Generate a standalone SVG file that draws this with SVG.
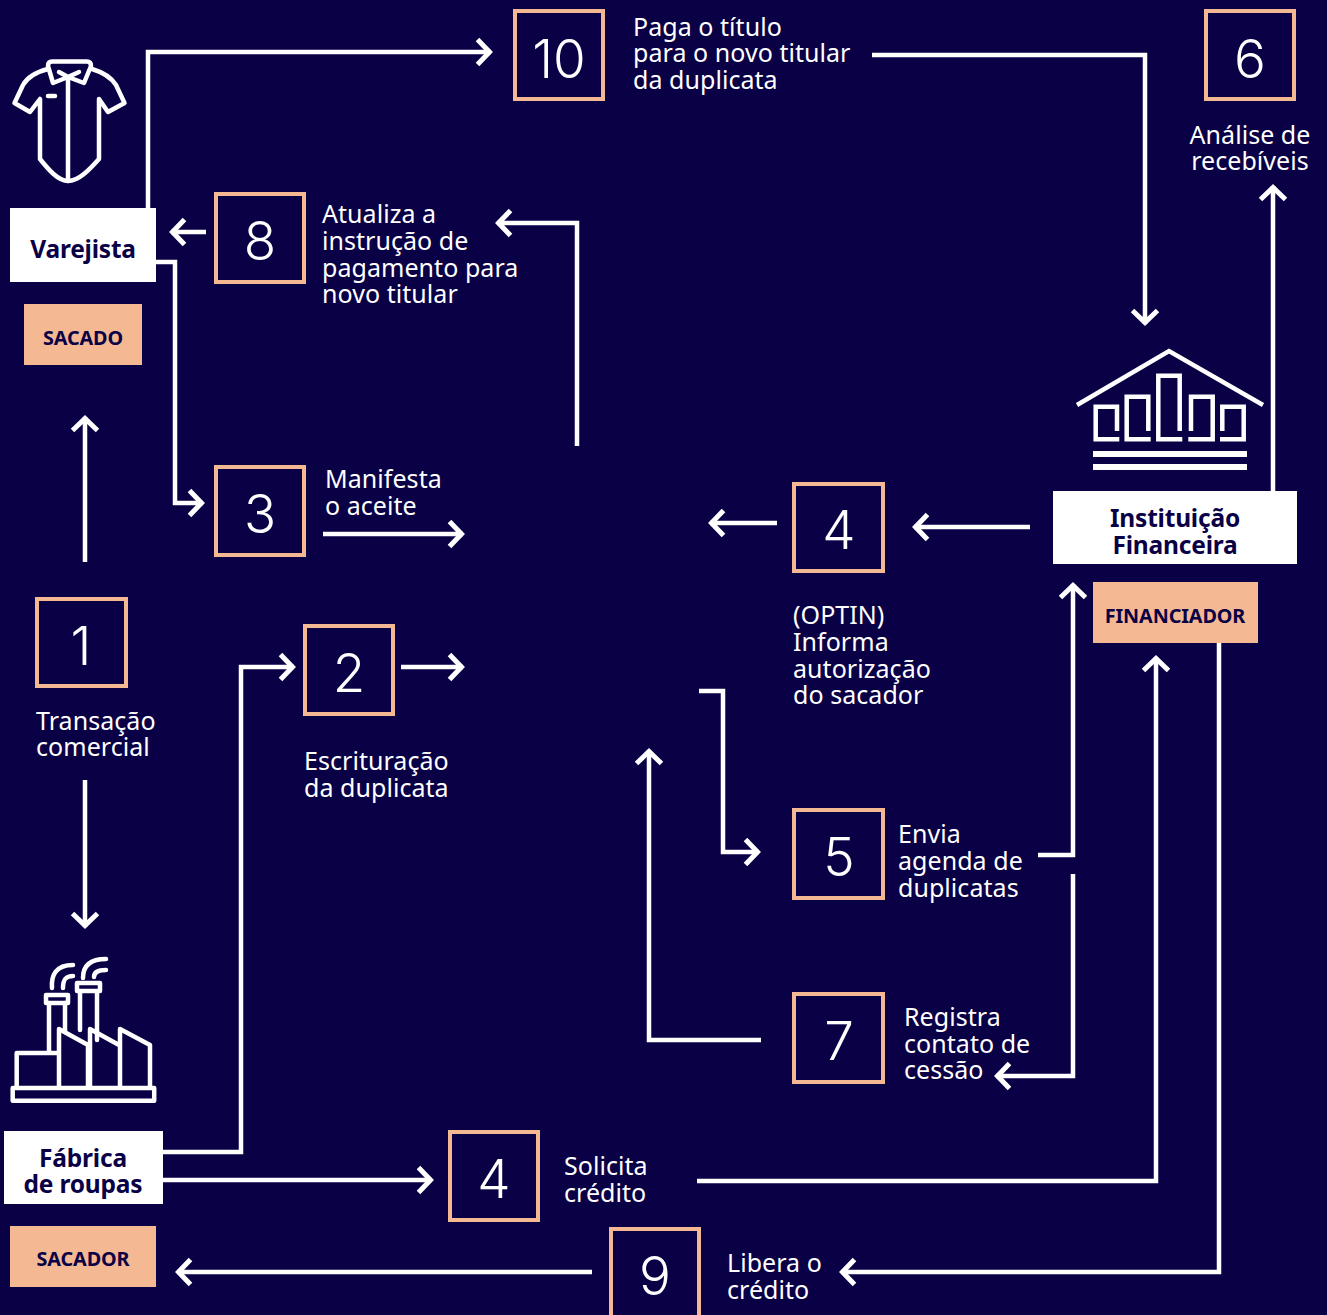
<svg xmlns="http://www.w3.org/2000/svg" width="1327" height="1315" viewBox="0 0 1327 1315">
<defs>
<marker id="a" markerUnits="userSpaceOnUse" markerWidth="30" markerHeight="40" refX="17.500" refY="15" orient="auto" overflow="visible"><path d="M4,2.500 L16,15 L4,27.500" fill="none" stroke="#fff" stroke-width="5"/></marker>
</defs>
<style>
.c{fill:none;stroke:#fff;stroke-width:4.500;marker-end:url(#a)}
.n{fill:#0a0046;stroke:#f4b992;stroke-width:4}
.d{font-family:"Inter",sans-serif;font-size:53px;font-weight:300;fill:#fff;text-anchor:middle}
.t{font-family:"Noto Sans",sans-serif;font-size:25px;fill:#fff;letter-spacing:.05px}
.w{fill:#fff}.p{fill:#f4b992}
.b{font-family:"Noto Sans",sans-serif;font-size:24.500px;font-weight:700;fill:#0a0046;text-anchor:middle;letter-spacing:-.2px}
.s{font-family:"Noto Sans",sans-serif;font-size:19.800px;font-weight:700;fill:#0a0046;text-anchor:middle;letter-spacing:-.1px}
.i{fill:none;stroke:#fff;stroke-width:4.500;stroke-linejoin:round;stroke-linecap:round}
.m{fill:none;stroke:#fff;stroke-width:4.500}
</style>
<rect width="1327" height="1315" fill="#0a0046"/>
<g id="connectors">
<path class="c" d="M148,208V52H491"/>
<path class="c" d="M206,232H171"/>
<path class="c" d="M156,262H175V503H203"/>
<path class="c" d="M577,446V223H497"/>
<path class="c" d="M323,534H463"/>
<path class="c" d="M85,562V417"/>
<path class="c" d="M85,780V927"/>
<path class="c" d="M163,1152H241V667H294"/>
<path class="c" d="M401,667H463"/>
<path class="c" d="M163,1180H432"/>
<path class="c" d="M697,1181H1156V657"/>
<path class="c" d="M592,1272H177"/>
<path class="c" d="M1219,643V1272H841"/>
<path class="c" d="M872,55H1145V324"/>
<path class="c" d="M1273,491V186"/>
<path class="c" d="M1030,527H914"/>
<path class="c" d="M777,523H710"/>
<path class="c" d="M699,691H723V852H759"/>
<path class="c" d="M1038,855H1073V584"/>
<path class="c" d="M1073,874V1076H996"/>
<path class="c" d="M761,1040H649V750"/>
</g>
<g id="shirt-icon" class="i">
<path d="M48,69C36,72 27,78 23,85L14.500,103L30,112L40,99V159C48,169 58,181 68,181C79,181 90,169 99,159V99L108,112L124.500,103L116,85C111,77 102,72 92,69"/>
<path d="M53,83L48,66Q48,61.500 52,61.500H87Q91,61.500 91,66L84,83L68,77Z"/>
<path d="M59,72L68,77L79,72M68,77V181"/>
<path d="M48,96H55"/>
</g>
<g id="factory-icon" class="i">
<rect x="12.700" y="1088" width="141.500" height="12.700"/>
<path d="M16.700,1087V1053H59M59,1087V1029L88,1045V1087M90,1087V1029L119,1045M120,1087V1029L150,1045V1087"/>
<path d="M49,1052V1003M65,1032V1003M80,1030V992M97,1040V992"/>
<rect x="46" y="995" width="22" height="8"/>
<rect x="77" y="983" width="23" height="8"/>
<path d="M52,988C51,975 56,965 73,965M63,988C63,979 66,976 73,976M83,978C83,966 90,959 106,959M94,977C94,972 98,970 106,970"/>
</g>
<g id="bank-icon">
<path class="m" d="M1077,405L1169,351L1263,405"/>
<path class="m" d="M1117,431V406.700H1095.700V439.300H1119.300M1148.300,431V396.700H1126.700V439.300H1150.700M1179.700,431V375.700H1158.300V439.300H1182.300M1191,431V396.700H1212.700V439.300H1188.300M1222.300,431V406.700H1243.700V439.300H1220"/>
<rect class="w" x="1093" y="451" width="154" height="6"/>
<rect class="w" x="1093" y="464" width="154" height="6"/>
</g>
<g id="varejista"><rect class="w" x="10" y="208" width="146" height="74"/><text class="b" x="83" y="258">Varejista</text></g>
<g id="sacado"><rect class="p" x="24" y="304" width="118" height="61"/><text class="s" x="83" y="345">SACADO</text></g>
<g id="instituicao"><rect class="w" x="1053" y="491" width="244" height="73"/><text class="b" x="1175" y="527">Instituição</text><text class="b" x="1175" y="554">Financeira</text></g>
<g id="financiador"><rect class="p" x="1093" y="582" width="165" height="61"/><text class="s" x="1175" y="623">FINANCIADOR</text></g>
<g id="fabrica"><rect class="w" x="4" y="1131" width="159" height="73"/><text class="b" x="83" y="1167">Fábrica</text><text class="b" x="83" y="1193">de roupas</text></g>
<g id="sacador"><rect class="p" x="10" y="1226" width="146" height="61"/><text class="s" x="83" y="1266">SACADOR</text></g>
<g id="step-10"><rect class="n" x="515" y="11" width="88" height="88"/><text class="d" x="559" y="78">10</text><text class="t" x="633" y="36">Paga o título</text><text class="t" x="633" y="62">para o novo titular</text><text class="t" x="633" y="89">da duplicata</text></g>
<g id="step-6"><rect class="n" x="1206" y="11" width="88" height="88"/><text class="d" x="1250" y="78">6</text><text class="t" x="1250" y="144" text-anchor="middle">Análise de</text><text class="t" x="1250" y="170" text-anchor="middle">recebíveis</text></g>
<g id="step-8"><rect class="n" x="216" y="194" width="88" height="88"/><text class="d" x="260" y="260">8</text><text class="t" x="322" y="223">Atualiza a</text><text class="t" x="322" y="250">instrução de</text><text class="t" x="322" y="277">pagamento para</text><text class="t" x="322" y="303">novo titular</text></g>
<g id="step-3"><rect class="n" x="216" y="467" width="88" height="88"/><text class="d" x="260" y="533">3</text><text class="t" x="325" y="488">Manifesta</text><text class="t" x="325" y="515">o aceite</text></g>
<g id="step-4a"><rect class="n" x="794" y="484" width="89" height="87"/><text class="d" x="839" y="549">4</text><text class="t" x="793" y="624">(OPTIN)</text><text class="t" x="793" y="651">Informa</text><text class="t" x="793" y="678">autorização</text><text class="t" x="793" y="704">do sacador</text></g>
<g id="step-1"><rect class="n" x="37" y="599" width="89" height="87"/><text class="d" x="81" y="665">1</text><text class="t" x="36" y="730">Transação</text><text class="t" x="36" y="756">comercial</text></g>
<g id="step-2"><rect class="n" x="305" y="626" width="88" height="88"/><text class="d" x="349" y="692">2</text><text class="t" x="304" y="770">Escrituração</text><text class="t" x="304" y="797">da duplicata</text></g>
<g id="step-5"><rect class="n" x="794" y="810" width="89" height="88"/><text class="d" x="839" y="876">5</text><text class="t" x="898" y="843">Envia</text><text class="t" x="898" y="870">agenda de</text><text class="t" x="898" y="897">duplicatas</text></g>
<g id="step-7"><rect class="n" x="794" y="994" width="89" height="88"/><text class="d" x="839" y="1060">7</text><text class="t" x="904" y="1026">Registra</text><text class="t" x="904" y="1053">contato de</text><text class="t" x="904" y="1079">cessão</text></g>
<g id="step-4b"><rect class="n" x="450" y="1132" width="88" height="88"/><text class="d" x="494" y="1198">4</text><text class="t" x="564" y="1175">Solicita</text><text class="t" x="564" y="1202">crédito</text></g>
<g id="step-9"><rect class="n" x="611" y="1229" width="88" height="88"/><text class="d" x="655" y="1295">9</text><text class="t" x="727" y="1272">Libera o</text><text class="t" x="727" y="1299">crédito</text></g>
</svg>
